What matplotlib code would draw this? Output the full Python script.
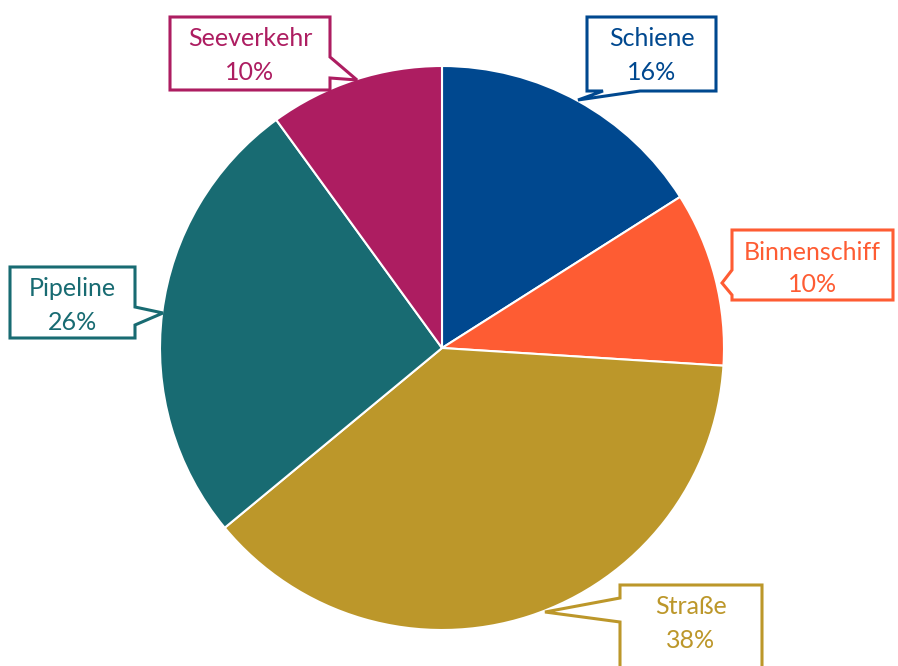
import matplotlib.pyplot as plt
from matplotlib.patches import Polygon

plt.rcParams['font.family'] = ['Lato', 'DejaVu Sans']

categories = ['Schiene', 'Binnenschiff', 'Straße', 'Pipeline', 'Seeverkehr']
shares = [16, 10, 38, 26, 10]
colors = ['#00488F', '#FE5C33', '#BC972A', '#186B72', '#AD1D61']

W, H = 898, 666
fig = plt.figure(figsize=(W / 100, H / 100), dpi=100)
ax = fig.add_axes([0, 0, 1, 1])

ax.pie(shares, colors=colors, startangle=90, counterclock=False,
       center=(442, H - 348), radius=282,
       wedgeprops=dict(edgecolor='white', linewidth=1.5))


def px(x, y):
    return (x, H - y)


def callout(box, side, base, tip, color):
    # box outline with a wedge pointing at the slice
    x0, y0, x1, y1 = box
    pts = [px(x0, y0), px(x1, y0)]
    if side == 'right':
        pts += [px(x1, base[0]), px(*tip), px(x1, base[1])]
    pts.append(px(x1, y1))
    if side == 'bottom':
        pts += [px(base[1], y1), px(*tip), px(base[0], y1)]
    pts.append(px(x0, y1))
    if side == 'left':
        pts += [px(x0, base[1]), px(*tip), px(x0, base[0])]
    ax.add_patch(Polygon(pts, closed=True, facecolor='white',
                         edgecolor=color, linewidth=2.2, zorder=5,
                         joinstyle='miter'))


layout = [
    ((587, 17, 716, 91), 'bottom', (603, 640), (578, 100)),
    ((732, 230, 893, 300), 'left', (270, 295), (722, 283)),
    ((620, 585, 762, 680), 'left', (598, 622), (545, 612)),
    ((10, 267, 135, 338), 'right', (307, 325), (163, 313)),
    ((170, 17, 330, 90), 'right', (57, 78), (357, 80)),
]
for (box, side, base, tip), c, s, col in zip(layout, categories, shares, colors):
    x0, y0, x1, y1 = box
    callout(box, side, base, tip, col)
    cx = (x0 + x1) / 2
    ax.text(*px(cx, y0 + 22), c, color=col, fontsize=18,
            ha='center', va='center', zorder=6)
    ax.text(*px(cx, y0 + 55), f'{s}%', color=col, fontsize=18,
            ha='center', va='center', zorder=6)

ax.set_xlim(0, W)
ax.set_ylim(0, H)
ax.set_aspect('equal')
ax.axis('off')

plt.savefig('out.png', dpi=100, facecolor='white')
plt.close()
